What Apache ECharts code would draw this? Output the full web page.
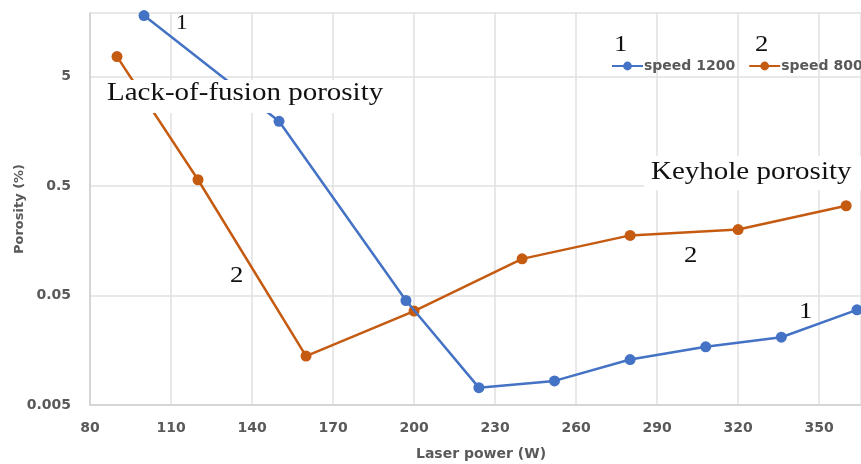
<!DOCTYPE html>
<html>
<head>
<meta charset="utf-8">
<script src="https://cdn.jsdelivr.net/npm/echarts@6/dist/echarts.min.js"></script>
<style>
html,body{margin:0;padding:0;background:#fff;}
#chart{width:861px;height:464px;}
</style>
</head>
<body>
<div id="chart"></div>
<script>
// Data
var power1200 = [100, 150, 197, 224, 252, 280, 308, 336, 364];
var porosity1200 = [18.0, 1.95, 0.045, 0.0072, 0.0083, 0.013, 0.017, 0.0208, 0.037];
var power800 = [90, 120, 160, 200, 240, 280, 320, 360];
var porosity800 = [7.6, 0.57, 0.014, 0.036, 0.108, 0.177, 0.20, 0.33];
var seriesNames = ['speed 1200', 'speed 800'];
var xTitle = 'Laser power (W)';
var yTitle = 'Porosity (%)';

function pairs(xs, ys) { return xs.map(function (x, i) { return [x, ys[i]]; }); }

var sans = 'DejaVu Sans';
var labelFont = { fontFamily: sans, fontWeight: 'bold', fontSize: 14, color: '#595959' };
var serif = 'Liberation Serif';
var SX = 1.16;

function numLabel(t, x, y, size) {
  return { type: 'text', left: x, top: y, z: 100, scaleX: SX,
           style: { text: t, font: size + 'px ' + serif, fill: '#111' } };
}

var chart = echarts.init(document.getElementById('chart'), null, { renderer: 'canvas' });
chart.setOption({
  animation: false,
  backgroundColor: '#fff',
  grid: { left: 90, right: 0, top: 13, bottom: 59, containLabel: false, outerBoundsMode: 'none' },
  legend: {
    left: 606, top: 54, width: 400, orient: 'horizontal',
    itemWidth: 31, itemHeight: 11, itemGap: 13,
    textStyle: { fontFamily: sans, fontWeight: 'bold', fontSize: 14, color: '#595959', padding: [0, 0, 0, -4] },
    data: seriesNames
  },
  xAxis: {
    type: 'value', min: 80, max: 365.5, interval: 30,
    name: xTitle, nameLocation: 'middle', nameGap: 42,
    nameTextStyle: { fontFamily: sans, fontWeight: 'bold', fontSize: 14, color: '#595959', padding: [0, 0, 0, 11] },
    axisLine: { show: true, lineStyle: { color: '#cfcfcf', width: 1.5 } },
    axisTick: { show: false },
    axisLabel: Object.assign({ margin: 16, showMaxLabel: false }, labelFont),
    splitLine: { show: true, lineStyle: { color: '#e0e0e0', width: 1.5 } }
  },
  yAxis: {
    type: 'log', logBase: 10, min: 0.005, max: 19, interval: 1,
    name: yTitle, nameLocation: 'middle', nameGap: 64, nameMoveOverlap: false,
    nameTextStyle: { fontFamily: sans, fontWeight: 'bold', fontSize: 13, color: '#595959' },
    axisLine: { show: true, lineStyle: { color: '#cfcfcf', width: 1.5 } },
    axisTick: { show: false },
    axisLabel: Object.assign({ margin: 19, showMaxLabel: false,
      formatter: function (v) { return String(Number(v.toPrecision(1))); } }, labelFont),
    splitLine: { show: true, lineStyle: { color: '#e0e0e0', width: 1.5 } }
  },
  series: [
    {
      name: seriesNames[0], type: 'line', data: pairs(power1200, porosity1200),
      symbol: 'circle', symbolSize: 11, z: 3,
      itemStyle: { color: '#4472C4' }, lineStyle: { color: '#4472C4', width: 2.5 }
    },
    {
      name: seriesNames[1], type: 'line', data: pairs(power800, porosity800),
      symbol: 'circle', symbolSize: 11, z: 2,
      itemStyle: { color: '#C55A11' }, lineStyle: { color: '#C55A11', width: 2.5 }
    }
  ],
  graphic: [
    { type: 'text', left: 100, top: 80, z: 100, scaleX: SX,
      style: { text: 'Lack-of-fusion porosity', font: '25px ' + serif, fill: '#111',
               backgroundColor: '#fff', padding: [1, 6, 7, 6] } },
    { type: 'text', left: 644, top: 156, z: 100, scaleX: SX,
      style: { text: 'Keyhole porosity', font: '25px ' + serif, fill: '#111',
               backgroundColor: '#fff', padding: [4, 12, 5, 6] } },
    numLabel('1', 176, 14, 20),
    numLabel('1', 614, 33, 23),
    numLabel('2', 755, 33, 23),
    numLabel('2', 230, 264, 23),
    numLabel('2', 684, 244, 23),
    numLabel('1', 799, 300, 23)
  ]
});
</script>
</body>
</html>
